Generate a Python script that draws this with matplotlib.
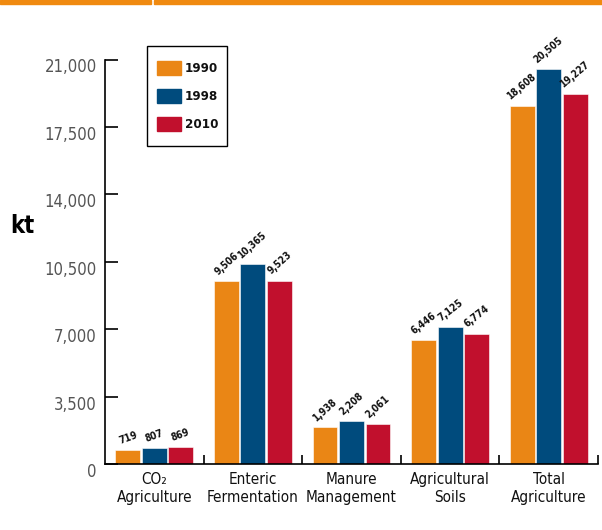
import numpy as np
import matplotlib.pyplot as plt
from matplotlib.patches import Rectangle
from matplotlib.transforms import ScaledTranslation

plt.rcParams['font.family'] = ['DejaVu Sans']
plt.rcParams['font.stretch'] = 'condensed'

categories = ["CO\u2082\nAgriculture", "Enteric\nFermentation", "Manure\nManagement",
              "Agricultural\nSoils", "Total\nAgriculture"]
years = ["1990", "1998", "2010"]
v1990 = [719, 9506, 1938, 6446, 18608]
v1998 = [807, 10365, 2208, 7125, 20505]
v2010 = [869, 9523, 2061, 6774, 19227]
yticks = [0, 3500, 7000, 10500, 14000, 17500, 21000]

colors = ["#EA8615", "#004B7D", "#C1102D"]
series = [v1990, v1998, v2010]
label_rot = [20, 42, 42, 38, 40]

W, H = 602, 530
fig = plt.figure(figsize=(W/100, H/100), dpi=100)
ax = fig.add_axes([105/W, 66/H, 493/W, 404.5/H])


def px(x, y):
    """pixel position measured from the top-left corner -> figure fraction"""
    return x / W, 1 - y / H


# orange rule across the top of the page
fig.add_artist(Rectangle(px(0, 3.5), 151/W, 3.5/H, color="#F08A10",
                         transform=fig.transFigure))
fig.add_artist(Rectangle(px(154, 3.5), 1, 3.5/H, color="#F08A10",
                         transform=fig.transFigure))

centers = np.arange(len(categories)) + 0.5
offsets = [-0.268, 0, 0.268]
for vals, off, col in zip(series, offsets, colors):
    bars = ax.bar(centers + off, vals, width=0.252, color=col,
                  edgecolor="white", linewidth=0.4)
    for b, v, rot in zip(bars, vals, label_rot):
        ax.annotate(f"{v:,}", (b.get_x() + b.get_width()/2, v),
                    xytext=(0, 3), textcoords="offset points", rotation=rot,
                    ha="center", va="bottom", fontsize=7.2, fontweight="bold",
                    color="#111111", annotation_clip=False)

ax.set_xlim(0, 5)
ax.set_ylim(0, 21000)
ax.spines[["top", "right"]].set_visible(False)
ax.spines[["left", "bottom"]].set_linewidth(1.2)

ax.set_yticks(yticks, [f"{t:,}" for t in yticks])
ax.tick_params(axis="y", direction="in", length=9, width=1.2, pad=6,
               labelsize=12, labelcolor="#555555")
shift = ScaledTranslation(0, -6/100, fig.dpi_scale_trans)
for lab in ax.get_yticklabels():
    lab.set_transform(lab.get_transform() + shift)

ax.set_xticks([1, 2, 3, 4, 5], [])
ax.tick_params(axis="x", which="major", direction="in", length=6.5, width=1.2)
ax.set_xticks(centers, categories, minor=True)
ax.tick_params(axis="x", which="minor", length=0, pad=6, labelsize=11,
               labelcolor="#111111")

fig.text(*px(10, 226), "kt", fontsize=17, fontweight="bold", va="center")

# boxed legend
x0, y0 = px(147, 146)
fig.add_artist(Rectangle((x0, y0), 80/W, 100/H, facecolor="white",
                         edgecolor="black", linewidth=1.0,
                         transform=fig.transFigure))
for i, (yr, col) in enumerate(zip(years, colors)):
    cy = 68 + 28 * i
    fig.add_artist(Rectangle(px(157, cy + 7), 24/W, 14/H, color=col,
                             transform=fig.transFigure))
    fig.text(*px(185, cy), yr, fontsize=9.5, fontweight="bold",
             va="center", ha="left", color="#111111")

fig.savefig("out.png", dpi=100)
